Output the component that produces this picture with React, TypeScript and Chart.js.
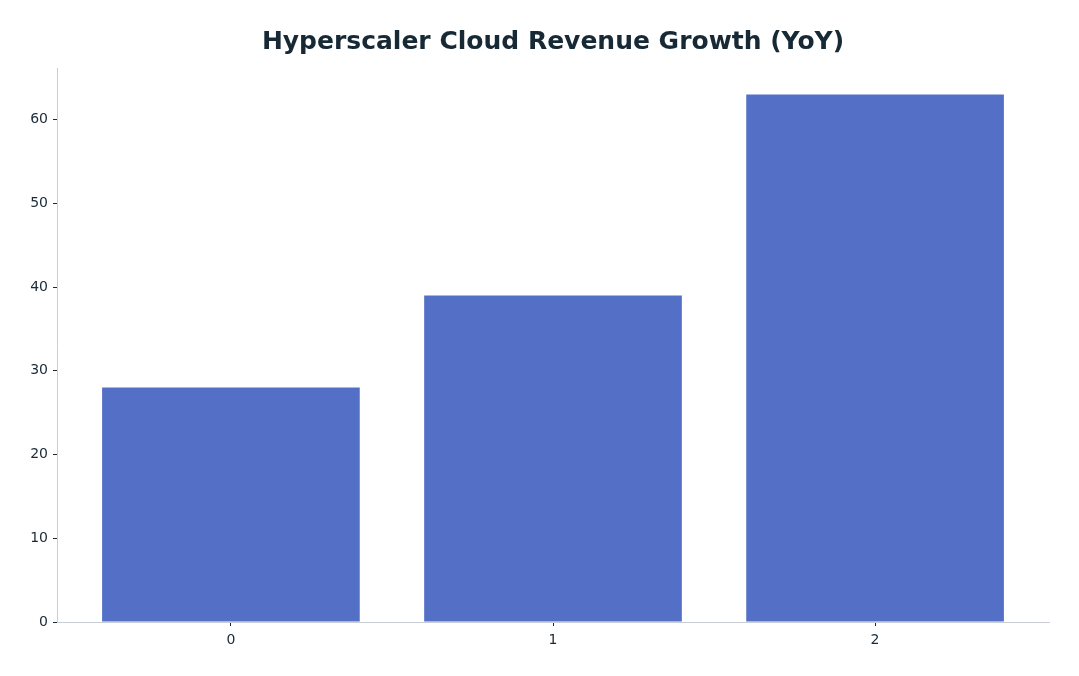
import React, { useRef, useEffect } from "react";
import Chart from "chart.js/auto";

const categories = [0, 1, 2];
const growthValues = [28, 39, 63];
const yTicks = [0, 10, 20, 30, 40, 50, 60];

const TITLE = "Hyperscaler Cloud Revenue Growth (YoY)";
const TEXT_COLOR = "#1a2a36";
const SPINE_COLOR = "#c8ced3";
const BAR_COLOR = "#5470c6";
const FONT = "'DejaVu Sans', sans-serif";

// draws the title centred over the plot area, like matplotlib does
const axesTitle = {
  id: "axesTitle",
  afterDraw(chart: Chart) {
    const { ctx, chartArea } = chart;
    ctx.save();
    ctx.font = `bold 25px ${FONT}`;
    ctx.fillStyle = "#172935";
    ctx.textAlign = "center";
    ctx.textBaseline = "middle";
    ctx.fillText(TITLE, (chartArea.left + chartArea.right) / 2, 42);
    ctx.restore();
  },
};

const App = () => {
  const chartRef = useRef<HTMLCanvasElement>(null);
  const chartInstance = useRef<Chart | null>(null);

  useEffect(() => {
    if (chartRef.current) {
      chartInstance.current = new Chart(chartRef.current, {
        type: "bar",
        data: {
          datasets: [
            {
              label: TITLE,
              data: categories.map((c, i) => ({ x: c, y: growthValues[i] })),
              backgroundColor: BAR_COLOR,
              borderWidth: 0,
              barPercentage: 0.8,
              categoryPercentage: 1,
            },
          ],
        },
        options: {
          responsive: true,
          maintainAspectRatio: false,
          animation: false,
          layout: { padding: { top: 68, right: 30, left: 0, bottom: 0 } },
          plugins: {
            legend: { display: false },
            title: { display: false },
            tooltip: { enabled: false },
          },
          scales: {
            x: {
              type: "linear",
              offset: false,
              min: categories[0] - 0.54,
              max: categories[categories.length - 1] + 0.54,
              afterFit: (scale: any) => {
                scale.height = 54;
              },
              afterBuildTicks: (scale: any) => {
                scale.ticks = categories.map((v) => ({ value: v }));
              },
              grid: {
                display: true,
                drawOnChartArea: false,
                drawTicks: true,
                tickLength: 4,
                tickColor: TEXT_COLOR,
                offset: false,
              },
              border: { display: true, color: SPINE_COLOR, width: 1 },
              ticks: {
                color: TEXT_COLOR,
                font: { family: FONT, size: 14 },
                padding: 6,
                maxRotation: 0,
                callback: (v: any) => String(v),
              },
            },
            y: {
              type: "linear",
              min: 0,
              max: 66.15,
              afterFit: (scale: any) => {
                scale.width = 57;
              },
              afterBuildTicks: (scale: any) => {
                scale.ticks = yTicks.map((v) => ({ value: v }));
              },
              grid: {
                display: true,
                drawOnChartArea: false,
                drawTicks: true,
                tickLength: 4,
                tickColor: TEXT_COLOR,
              },
              border: { display: true, color: SPINE_COLOR, width: 1 },
              ticks: {
                color: TEXT_COLOR,
                font: { family: FONT, size: 14 },
                padding: 5,
                callback: (v: any) => String(v),
              },
            },
          },
        },
        plugins: [axesTitle],
      });
    }
    return () => {
      chartInstance.current?.destroy();
    };
  }, []);

  return (
    <div
      style={{
        position: "fixed",
        left: 0,
        top: 0,
        width: 1079,
        height: 676,
        background: "#ffffff",
      }}
    >
      <canvas ref={chartRef} />
    </div>
  );
};

export default App;
